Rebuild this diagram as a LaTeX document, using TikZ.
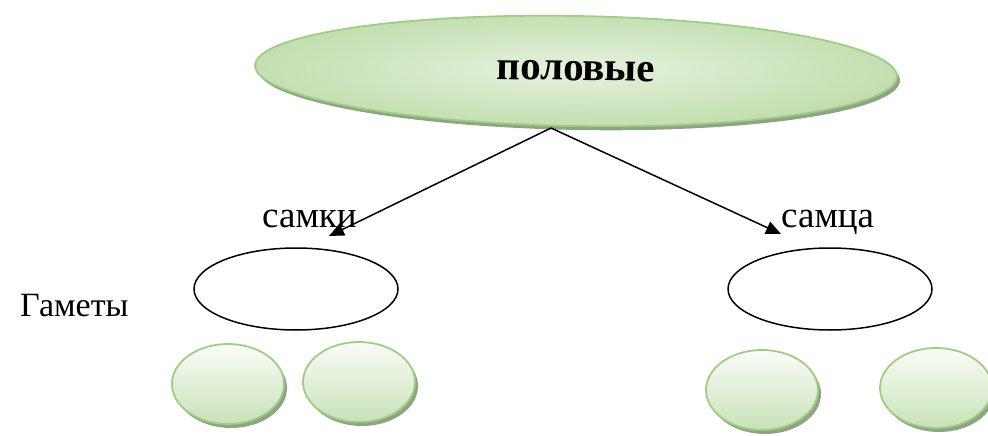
\documentclass[tikz,border=0pt]{standalone}
\usepackage{fontspec}
\setmainfont{Liberation Serif}
\usetikzlibrary{shapes.geometric,arrows.meta,shadows}
\definecolor{gborder}{HTML}{9CCF80}
\definecolor{gshadow}{HTML}{8FA487}
\definecolor{glight}{HTML}{E6F2DE}
\definecolor{gdark}{HTML}{C3DFB0}
\definecolor{gpale}{HTML}{FAFCF8}
\definecolor{gbottom}{HTML}{C8E2B7}
\tikzset{
  bigoval/.style={ellipse, inner sep=0pt, draw=gborder, line width=1.8pt,
    inner color=glight, outer color=gdark,
    drop shadow={shadow xshift=3pt, shadow yshift=-4pt, fill=gshadow, opacity=1}},
  gamete/.style={ellipse, inner sep=0pt, minimum width=112pt, minimum height=80pt,
    draw=gborder, line width=1.8pt, top color=gpale, bottom color=gbottom,
    drop shadow={shadow xshift=3pt, shadow yshift=-4pt, fill=gshadow, opacity=1}},
  cell/.style={ellipse, inner sep=0pt, minimum width=204pt, minimum height=82pt,
    draw=black, line width=1.5pt, fill=white},
  lbl/.style={font=\fontsize{37}{42}\selectfont, inner sep=0pt},
  conn/.style={line width=1.5pt, -{Triangle[length=15pt,width=13pt]}}
}
\begin{document}
\begin{tikzpicture}[x=1pt,y=-1pt]
\useasboundingbox (0,0) rectangle (988,436);
\node[bigoval, minimum width=642pt, minimum height=110pt, rotate=-1] (top) at (576,71)
  {\fontsize{41}{46}\selectfont\bfseries половые};
\node[cell] (f) at (296,289) {};
\node[cell] (m) at (830,289) {};
\node[gamete] (f1) at (228,384) {};
\node[gamete] (f2) at (359,382) {};
\node[gamete] (m1) at (762,390) {};
\node[gamete] (m2) at (936,388) {};
\node[lbl, anchor=base west] (ls) at (262,227) {самки};
\node[lbl, anchor=base west] (lm) at (781,227) {самца};
\node[lbl, anchor=base west, font=\fontsize{34}{40}\selectfont] (lg) at (20,316) {Гаметы};
\coordinate (apex) at (551,128);
\coordinate (tipf) at (329,236);
\coordinate (tipm) at (781,234);
\draw[conn] (apex) -- (tipf);
\draw[conn] (apex) -- (tipm);
\end{tikzpicture}
\end{document}
